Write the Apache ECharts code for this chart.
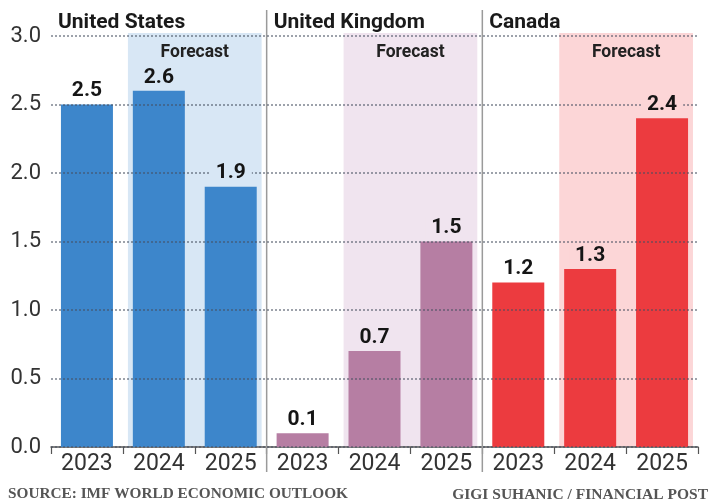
<!DOCTYPE html>
<html>
<head>
<meta charset="utf-8">
<script src="https://cdn.jsdelivr.net/npm/echarts@6/dist/echarts.min.js"></script>
<style>
  html, body { margin: 0; padding: 0; background: #fff; }
  #chart { width: 711px; height: 504px; }
</style>
</head>
<body>
<div id="chart"></div>
<script>
// GDP growth, per cent
const countries = ['United States', 'United Kingdom', 'Canada'];
const years = ['2023', '2024', '2025'];
const forecastYears = ['2024', '2025'];
const usGrowth = [2.5, 2.6, 1.9];
const ukGrowth = [0.1, 0.7, 1.5];
const caGrowth = [1.2, 1.3, 2.4];
const yMin = 0;
const yMax = 3;
const yStep = 0.5;
const forecastLabel = 'Forecast';
const sourceText = 'SOURCE: IMF WORLD ECONOMIC OUTLOOK';
const creditText = 'GIGI SUHANIC / FINANCIAL POST';

const barColors = ['#3d86cb', '#b67ea3', '#ec3b3f'];
const shadeColors = ['#d8e7f5', '#f0e4ef', '#fcd6d7'];
const SANS = 'Roboto, "Liberation Sans", sans-serif';
const SERIF = '"Liberation Serif", "DejaVu Serif", serif';

const seriesByCountry = [usGrowth, ukGrowth, caGrowth];
const categories = [];
const values = [];
const panelOf = [];
const isForecast = [];
countries.forEach((c, p) => {
  years.forEach((y, k) => {
    categories.push(c + ' ' + y);
    values.push(seriesByCountry[p][k]);
    panelOf.push(p);
    isForecast.push(forecastYears.indexOf(y) >= 0);
  });
});

const barData = values.map((v, i) => ({
  value: v,
  itemStyle: { color: barColors[panelOf[i]] }
}));

// label boxes take the colour behind them so grid dots stop short of the numbers
const labelData = values.map((v, i) => ({
  value: v,
  label: { backgroundColor: isForecast[i] ? shadeColors[panelOf[i]] : '#ffffff' }
}));

// one item per country panel: index of its first category
const panelData = countries.map((c, p) => [p * years.length, yMax]);

function renderPanel(params, api) {
  const p = params.dataIndex;
  const first = p * years.length;
  const last = first + years.length - 1;
  const fFirst = first + years.indexOf(forecastYears[0]);
  const bw = api.size([1, 0])[0];
  const top = api.coord([first, yMax])[1];
  const bottom = api.coord([first, yMin])[1];
  const xStart = api.coord([first, yMin])[0] - bw / 2;
  const fx0 = api.coord([fFirst, yMin])[0] - bw * 0.43;
  const fx1 = api.coord([last, yMin])[0] + bw * 0.43;
  const children = [
    {
      type: 'rect',
      shape: { x: fx0, y: top - 3, width: fx1 - fx0, height: bottom - top + 3 },
      style: { fill: shadeColors[p] },
      z2: 0
    },
    {
      type: 'text',
      x: (fx0 + fx1) / 2,
      y: top + 17,
      style: {
        text: forecastLabel,
        fill: '#222',
        font: 'bold 17.5px ' + SANS,
        align: 'center',
        verticalAlign: 'middle'
      },
      z2: 2
    },
    {
      type: 'text',
      x: xStart + 7,
      y: top - 13,
      style: {
        text: countries[p],
        fill: '#1a1a1a',
        font: 'bold 21px ' + SANS,
        align: 'left',
        verticalAlign: 'middle'
      },
      z2: 2
    }
  ];
  if (p > 0) {
    children.push({
      type: 'line',
      shape: { x1: xStart, y1: top - 26, x2: xStart, y2: bottom + 25 },
      style: { stroke: '#9a9a9a', lineWidth: 1.5 },
      z2: 3
    });
  }
  return { type: 'group', children };
}

const chart = echarts.init(document.getElementById('chart'), null, { renderer: 'canvas' });
chart.setOption({
  animation: false,
  backgroundColor: '#ffffff',
  grid: { left: 51, right: 13, top: 36, bottom: 57 },
  xAxis: {
    type: 'category',
    data: categories,
    z: 1,
    axisLine: { lineStyle: { color: '#555', width: 1.5 } },
    axisTick: { show: true, length: 7, lineStyle: { color: '#555', width: 1.2 } },
    axisLabel: {
      interval: 0,
      formatter: v => v.split(' ').pop(),
      color: '#333',
      fontFamily: SANS,
      fontSize: 23,
      margin: 6
    },
    splitLine: { show: false }
  },
  yAxis: {
    type: 'value',
    min: yMin,
    max: yMax,
    interval: yStep,
    z: 3,
    axisLine: { show: false },
    axisTick: { show: false },
    axisLabel: {
      formatter: v => v.toFixed(1),
      color: '#333',
      fontFamily: SANS,
      fontSize: 22,
      margin: 10
    },
    splitLine: {
      show: true,
      lineStyle: { color: 'rgba(70,78,95,0.7)', type: [2, 2], width: 1.5 }
    }
  },
  series: [
    {
      type: 'custom',
      name: 'panels',
      coordinateSystem: 'cartesian2d',
      data: panelData,
      encode: { x: 0, y: 1 },
      renderItem: renderPanel,
      clip: false,
      silent: true,
      z: 1
    },
    {
      type: 'bar',
      name: 'growth',
      data: barData,
      barWidth: 52,
      barGap: '-100%',
      z: 2
    },
    {
      type: 'bar',
      name: 'labels',
      data: labelData,
      barWidth: 52,
      barGap: '-100%',
      itemStyle: { color: 'rgba(0,0,0,0)' },
      z: 4,
      label: {
        show: true,
        position: 'top',
        distance: 3,
        formatter: p => p.value.toFixed(1),
        color: '#151515',
        fontFamily: SANS,
        fontWeight: 'bold',
        fontSize: 21,
        padding: [0, 6, 0, 6]
      }
    }
  ],
  graphic: [
    {
      type: 'text',
      left: 8,
      top: 487,
      style: { text: sourceText, fill: '#555', font: 'bold 15.3px ' + SERIF }
    },
    {
      type: 'text',
      right: 3,
      top: 487,
      style: { text: creditText, fill: '#555', font: 'bold 15.5px ' + SERIF }
    }
  ]
});
</script>
</body>
</html>
